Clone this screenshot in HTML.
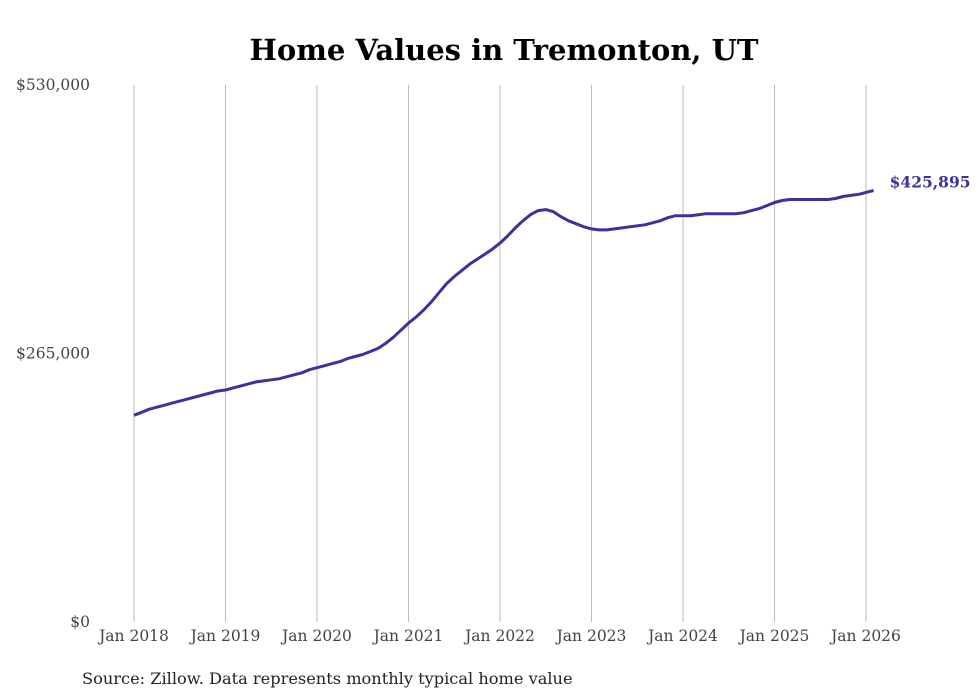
<!DOCTYPE html>
<html><head><meta charset="utf-8">
<style>
html,body{margin:0;padding:0;background:#fff;}
svg{display:block;}
</style></head>
<body>
<svg id="chart" width="980" height="699" viewBox="0 0 980 699">
<text x="504" y="60" text-anchor="middle" font-family="'DejaVu Serif',serif" font-weight="bold" font-size="29" fill="#000">Home Values in Tremonton, UT</text>
<g id="grid"></g>
<g id="yticks"></g>
<g id="xticks"></g>
<path id="line" fill="none" stroke="#3b3399" stroke-width="3" stroke-linejoin="round"></path>
<text id="endlabel" font-family="'DejaVu Serif',serif" font-weight="bold" font-size="15.5" fill="#3b3399"></text>
<text x="82" y="684" font-family="'DejaVu Serif',serif" font-size="16.2" fill="#222">Source: Zillow. Data represents monthly typical home value</text>
</svg>
<script>
const yTickValues = [0, 265000, 530000];
const yTickLabels = ["$0", "$265,000", "$530,000"];
const xTickYears = [2018, 2019, 2020, 2021, 2022, 2023, 2024, 2025, 2026];
const startYear = 2018;
const values = [
204000,207000,210000,212000,214000,216000,218000,220000,222000,224000,226000,228000,
229000,231000,233000,235000,237000,238000,239000,240000,242000,244000,246000,249000,
251000,253000,255000,257000,260000,262000,264000,267000,270000,275000,281000,288000,
295000,301000,308000,316000,325000,334000,341000,347000,353000,358000,363000,368000,
374000,381000,389000,396000,402000,406000,407000,405000,400000,396000,393000,390000,
388000,387000,387000,388000,389000,390000,391000,392000,394000,396000,399000,401000,
401000,401000,402000,403000,403000,403000,403000,403000,404000,406000,408000,411000,
414000,416000,417000,417000,417000,417000,417000,417000,418000,420000,421000,422000,
424000,425895];
const lastLabel = "$425,895";

const NS="http://www.w3.org/2000/svg";
const x0=134, yearW=91.5, yBase=622, yTop=85, yMax=530000;
function xScale(monthIndex){return x0+monthIndex*yearW/12;}
function yScale(v){return yBase-(v/yMax)*(yBase-yTop);}
const grid=document.getElementById('grid');
const xt=document.getElementById('xticks');
xTickYears.forEach(yr=>{
  const x=xScale((yr-startYear)*12);
  const l=document.createElementNS(NS,'line');
  l.setAttribute('x1',x);l.setAttribute('x2',x);l.setAttribute('y1',yTop);l.setAttribute('y2',yBase);
  l.setAttribute('stroke','#bbb');l.setAttribute('stroke-width','1');
  
  
  grid.appendChild(l);
  const t=document.createElementNS(NS,'text');
  t.setAttribute('x',x);t.setAttribute('y',641);t.setAttribute('text-anchor','middle');
  t.setAttribute('font-family',"'DejaVu Serif',serif");t.setAttribute('font-size','15.5');t.setAttribute('fill','#444');
  t.textContent='Jan '+yr;
  
  
  xt.appendChild(t);
});
const yt=document.getElementById('yticks');
yTickValues.forEach((v,i)=>{
  const t=document.createElementNS(NS,'text');
  t.setAttribute('x',90);t.setAttribute('y',yScale(v)+5);t.setAttribute('text-anchor','end');
  t.setAttribute('font-family',"'DejaVu Serif',serif");t.setAttribute('font-size','15.5');t.setAttribute('fill','#444');
  t.textContent=yTickLabels[i];
  
  
  yt.appendChild(t);
});
let d='';
values.forEach((v,i)=>{d+=(i?'L':'M')+xScale(i).toFixed(1)+','+yScale(v).toFixed(1);});
document.getElementById('line').setAttribute('d',d);
const li=values.length-1;
const el=document.getElementById('endlabel');
el.setAttribute('x',xScale(li)+16);el.setAttribute('y',yScale(values[li])-3);
el.textContent=lastLabel;
</script>
</body></html>
